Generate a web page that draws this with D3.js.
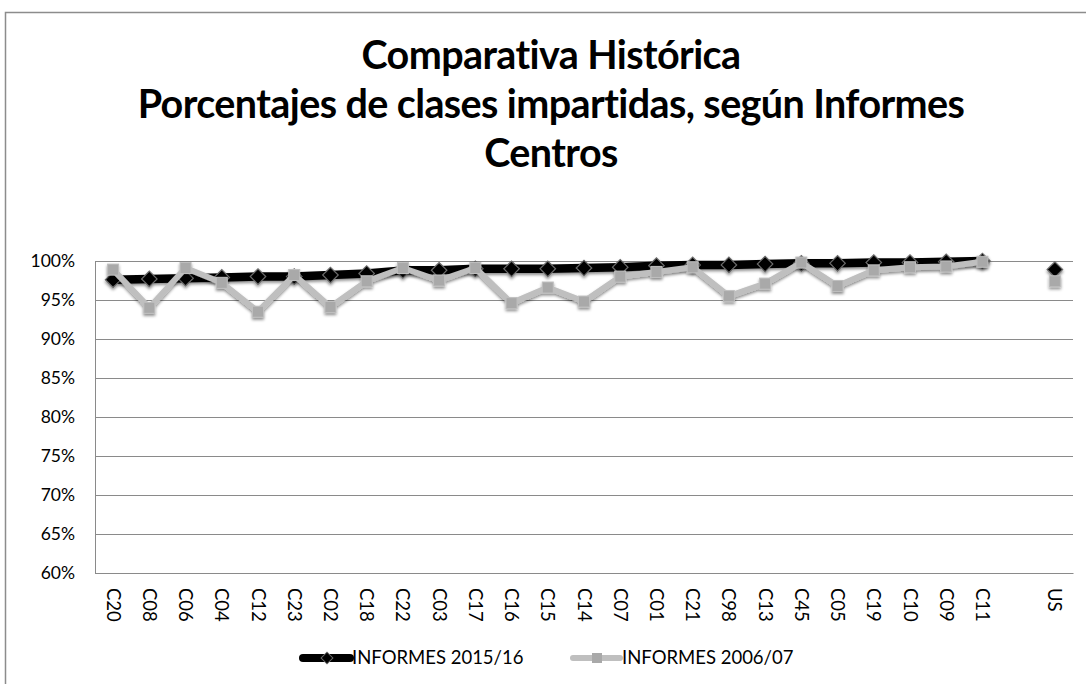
<!DOCTYPE html>
<html>
<head>
<meta charset="utf-8">
<script src="https://cdn.jsdelivr.net/npm/d3@7"></script>
<style>
  body { margin: 0; background: #fff; }
  text { font-family: Lato, "Open Sans", sans-serif; }
</style>
</head>
<body>
<div id="chart"></div>
<script>
// categories (blank slot before US, as in the original sheet)
var centros = ["C20","C08","C06","C04","C12","C23","C02","C18","C22","C03","C17","C16","C15","C14",
               "C07","C01","C21","C98","C13","C45","C05","C19","C10","C09","C11","", "US"];

var informes1516 = [97.6, 97.7, 97.8, 97.9, 98.0, 98.0, 98.2, 98.4, 98.8, 98.8, 99.0, 99.0, 99.0, 99.1,
                    99.2, 99.4, 99.5, 99.5, 99.6, 99.7, 99.7, 99.8, 99.8, 99.9, 100.0, null, 98.9];
var informes0607 = [98.9, 94.0, 99.1, 97.2, 93.5, 98.2, 94.1, 97.4, 99.1, 97.5, 99.1, 94.6, 96.6, 94.8,
                    98.0, 98.6, 99.2, 95.5, 97.1, 99.8, 96.8, 98.8, 99.2, 99.3, 99.9, null, 97.4];

var yTicks = [60, 65, 70, 75, 80, 85, 90, 95, 100];
var titulo = ["Comparativa Histórica", "Porcentajes de clases impartidas, según Informes", "Centros"];
var leyenda = ["INFORMES 2015/16", "INFORMES 2006/07"];

var W = 1086, H = 684;
var margin = {top: 261, right: 13, bottom: 111, left: 95},
    width = W - margin.left - margin.right,
    height = H - margin.top - margin.bottom;

var svg = d3.select("#chart").append("svg")
    .attr("width", W)
    .attr("height", H);

// soft shadow like the spreadsheet
var defs = svg.append("defs");
var f = defs.append("filter").attr("id", "sombra")
    .attr("x", "-20%").attr("y", "-20%").attr("width", "140%").attr("height", "160%");
f.append("feDropShadow").attr("dx", 0).attr("dy", 2).attr("stdDeviation", 1.6)
    .attr("flood-color", "#000").attr("flood-opacity", 0.45);

// chart border
svg.append("rect")
    .attr("x", 5.5).attr("y", 12.5)
    .attr("width", 1100).attr("height", 700)
    .attr("fill", "none")
    .attr("stroke", "#8c8c8c")
    .attr("stroke-width", 1.5);

// title
svg.append("g").selectAll("text")
    .data(titulo)
    .enter().append("text")
    .attr("x", 551)
    .attr("y", function (d, i) { return 69 + i * 49; })
    .attr("text-anchor", "middle")
    .style("font-size", "39.5px")
    .style("font-weight", "bold")
    .style("letter-spacing", "-0.6px")
    .text(function (d) { return d; });

var g = svg.append("g")
    .attr("transform", "translate(" + margin.left + "," + margin.top + ")");

var x = d3.scaleBand()
    .domain(centros.map(function (d, i) { return i; }))
    .range([0, width]);

var y = d3.scaleLinear()
    .domain([60, 100])
    .range([height, 0]);

// gridlines
g.append("g")
    .selectAll("line")
    .data(yTicks)
    .enter().append("line")
    .attr("x1", 0).attr("x2", width)
    .attr("y1", function (d) { return Math.round(y(d)) + 0.5; })
    .attr("y2", function (d) { return Math.round(y(d)) + 0.5; })
    .attr("stroke", "#8a8a8a")
    .attr("stroke-width", 1);

// y axis
var yAxis = g.append("g")
    .call(d3.axisLeft(y).tickValues(yTicks).tickSize(0).tickPadding(20)
        .tickFormat(function (d) { return d + "%"; }));
yAxis.select(".domain").attr("stroke", "#8a8a8a");
yAxis.selectAll("text")
    .style("font-size", "17.5px")
    .style("font-family", "Lato, sans-serif")
    .attr("fill", "#000");

// x axis
var xAxis = g.append("g")
    .attr("transform", "translate(0," + height + ")")
    .call(d3.axisBottom(x).tickSize(0)
        .tickFormat(function (i) { return centros[i]; }));
xAxis.select(".domain").attr("stroke", "#8a8a8a");
xAxis.selectAll("text")
    .attr("transform", "rotate(90)")
    .attr("x", 15)
    .attr("y", 0)
    .attr("dy", "0.35em")
    .style("text-anchor", "start")
    .style("font-size", "18.5px")
    .style("font-family", "Lato, sans-serif")
    .attr("fill", "#000");

var cx = function (i) { return x(i) + x.bandwidth() / 2; };

var linea = d3.line()
    .defined(function (d) { return d != null; })
    .x(function (d, i) { return cx(i); })
    .y(function (d) { return y(d); });

// series 2015/16 (black, diamonds)
var s1 = g.append("g").attr("filter", "url(#sombra)");
s1.append("path")
    .datum(informes1516)
    .attr("d", linea)
    .attr("fill", "none")
    .attr("stroke", "#000")
    .attr("stroke-width", 8.5)
    .attr("stroke-linejoin", "round");

// series 2006/07 (grey, squares)
var s2 = g.append("g").attr("filter", "url(#sombra)");
s2.append("path")
    .datum(informes0607)
    .attr("d", linea)
    .attr("fill", "none")
    .attr("stroke", "#bfbfbf")
    .attr("stroke-width", 6)
    .attr("stroke-linejoin", "round");

// a square turned 45 degrees, as excel draws it
var rombo = d3.symbol().type(d3.symbolSquare).size(120);
s1.selectAll(".dia")
    .data(informes1516.map(function (v, i) { return {v: v, i: i}; })
        .filter(function (d) { return d.v != null; }))
    .enter().append("path")
    .attr("class", "dia")
    .attr("transform", function (d) { return "translate(" + cx(d.i) + "," + y(d.v) + ") rotate(45)"; })
    .attr("d", rombo)
    .attr("fill", "#000")
    .attr("stroke", "#6b6b6b")
    .attr("stroke-width", 1.2);

s2.selectAll(".sq")
    .data(informes0607.map(function (v, i) { return {v: v, i: i}; })
        .filter(function (d) { return d.v != null; }))
    .enter().append("rect")
    .attr("class", "sq")
    .attr("x", function (d) { return cx(d.i) - 5.5; })
    .attr("y", function (d) { return y(d.v) - 5.5; })
    .attr("width", 11)
    .attr("height", 11)
    .attr("fill", "#a9a9a9")
    .attr("stroke", "#bfbfbf")
    .attr("stroke-width", 1);

// legend
var leg = svg.append("g");
var legX = [303, 573];
leg.selectAll("g")
    .data(leyenda)
    .enter().append("g")
    .attr("transform", function (d, i) { return "translate(" + legX[i] + ",658)"; })
    .each(function (d, i) {
        var gg = d3.select(this);
        gg.append("line")
            .attr("x1", 0).attr("x2", 47)
            .attr("y1", 0).attr("y2", 0)
            .attr("stroke", i === 0 ? "#000" : "#bfbfbf")
            .attr("stroke-width", i === 0 ? 8 : 6)
            .attr("stroke-linecap", "round");
        if (i === 0) {
            gg.append("path")
                .attr("transform", "translate(24,0) rotate(45)")
                .attr("d", d3.symbol().type(d3.symbolSquare).size(70))
                .attr("fill", "#000")
                .attr("stroke", "#6b6b6b");
        } else {
            gg.append("rect")
                .attr("x", 19).attr("y", -5).attr("width", 10).attr("height", 10)
                .attr("fill", "#a9a9a9");
        }
        gg.append("text")
            .attr("x", 49)
            .attr("dy", "0.35em")
            .style("font-size", "18.5px")
            .text(d);
    });
</script>
</body>
</html>
